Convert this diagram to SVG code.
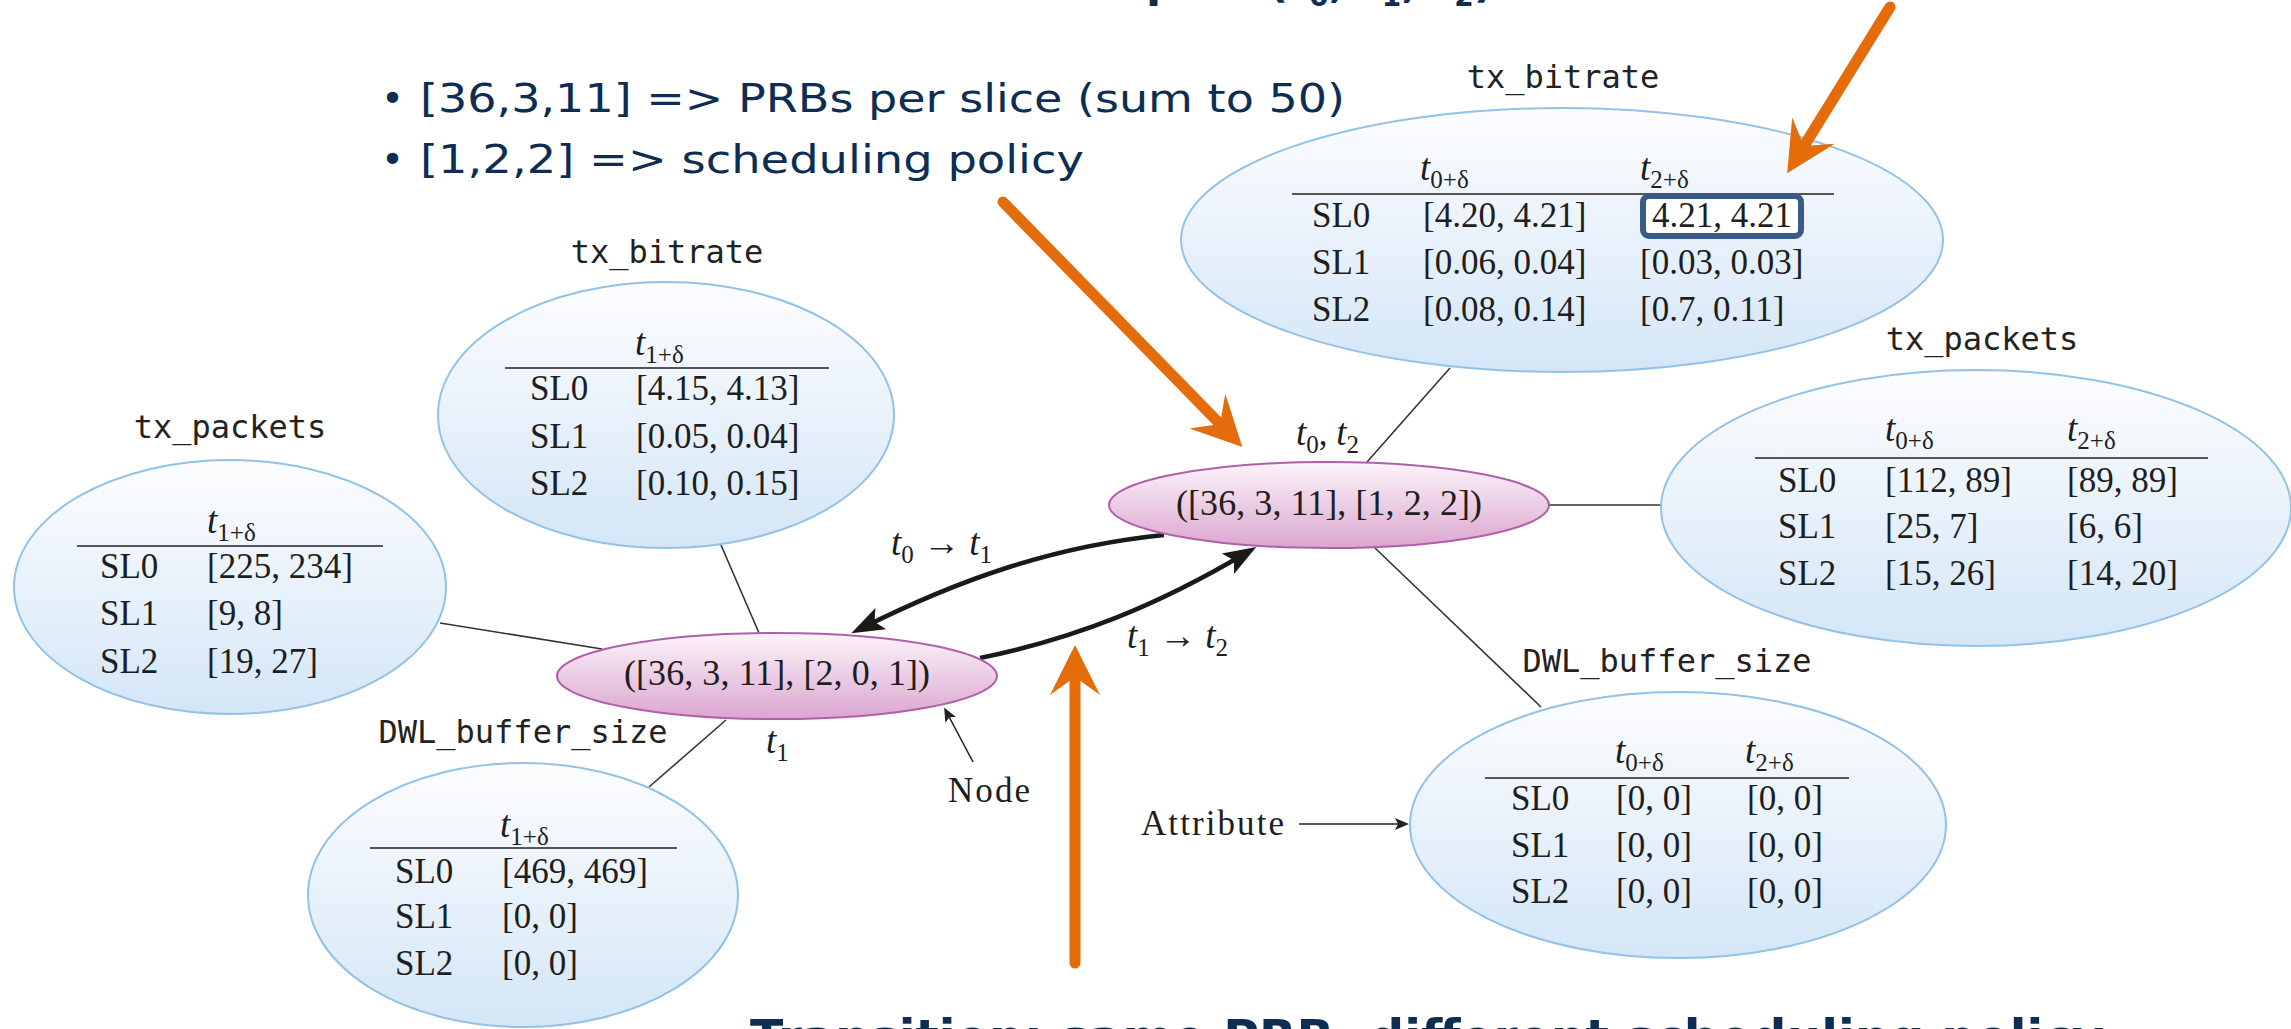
<svg xmlns="http://www.w3.org/2000/svg" width="2291" height="1029" viewBox="0 0 2291 1029">
<style>
.mono{font-family:"DejaVu Sans Mono","Liberation Mono",monospace;font-size:32px;fill:#222;text-anchor:middle}
.tb{font-family:"Liberation Serif","DejaVu Serif",serif;font-size:35px;fill:#1e1e1e}
.nd{font-family:"Liberation Serif","DejaVu Serif",serif;font-size:36px;fill:#1e1e1e;text-anchor:middle}
.it{font-style:italic;font-size:37px}
.sub{font-size:25px}
.attr{fill:url(#gBlue);stroke:#93c2e8;stroke-width:2}
.node{fill:url(#gPink);stroke:#b15fab;stroke-width:2}
.hl{stroke:#555;stroke-width:2}
.edge{stroke:#333;stroke-width:1.6;fill:none}
.trans{stroke:#1a1a1a;stroke-width:4.5;fill:none}
.thin{stroke:#222;stroke-width:1.6;fill:none}
.orange{stroke:#e46c0a;stroke-width:11;fill:none;stroke-linecap:round}
.slide{font-family:"DejaVu Sans","Open Sans",sans-serif;fill:#0d2d52}
</style>
<defs>
<linearGradient id="gBlue" x1="0" y1="0" x2="0" y2="1">
<stop offset="0" stop-color="#fdfdfe"/>
<stop offset="1" stop-color="#d4e6f7"/>
</linearGradient>
<linearGradient id="gPink" x1="0" y1="0" x2="0" y2="1">
<stop offset="0" stop-color="#fcf4fa"/>
<stop offset="1" stop-color="#dba6cf"/>
</linearGradient>
<marker id="hBlack" markerUnits="userSpaceOnUse" viewBox="-30 -15 45 30" markerWidth="45" markerHeight="30" refX="0" refY="0" orient="auto">
<path d="M12,0 L-21,-12 L-14,0 L-21,12 Z" fill="#1a1a1a"/>
</marker>
<marker id="hSmall" markerUnits="userSpaceOnUse" viewBox="-20 -10 30 20" markerWidth="30" markerHeight="20" refX="0" refY="0" orient="auto">
<path d="M4,0 L-10,-6 L-7,0 L-10,6 Z" fill="#222"/>
</marker>
<marker id="hOrange" markerUnits="userSpaceOnUse" viewBox="-25 -30 65 60" markerWidth="65" markerHeight="60" refX="0" refY="0" orient="auto">
<path d="M32,0 L-18,-25 L0,0 L-18,25 Z" fill="#e46c0a"/>
</marker>
</defs>

<g id="connectors">
<line class="edge" x1="721" y1="545" x2="759" y2="633"/>
<line class="edge" x1="440" y1="623" x2="602" y2="649"/>
<line class="edge" x1="726" y1="720" x2="649" y2="787"/>
<line class="edge" x1="1450" y1="368" x2="1367" y2="462"/>
<line class="edge" x1="1549" y1="505" x2="1662" y2="505"/>
<line class="edge" x1="1375" y1="548" x2="1541" y2="707"/>
<path class="trans" d="M1164,535 C1054,546 960,579 862,628" marker-end="url(#hBlack)"/>
<path class="trans" d="M980,658 C1078,638 1160,604 1246,553" marker-end="url(#hBlack)"/>
<line class="thin" x1="973" y1="762" x2="946" y2="711" marker-end="url(#hSmall)"/>
<line class="thin" x1="1299" y1="824" x2="1405" y2="824" marker-end="url(#hSmall)"/>
</g>

<g id="attr-left-bitrate">
<text class="mono" x="667" y="263">tx_bitrate</text>
<ellipse class="attr" cx="666" cy="415" rx="228" ry="133"/>
<text class="tb" x="635" y="355"><tspan class="it">t</tspan><tspan class="sub" dy="8">1+δ</tspan></text>
<line class="hl" x1="505" y1="368" x2="829" y2="368"/>
<text class="tb" x="530" y="400">SL0</text><text class="tb" x="636" y="400">[4.15, 4.13]</text>
<text class="tb" x="530" y="448">SL1</text><text class="tb" x="636" y="448">[0.05, 0.04]</text>
<text class="tb" x="530" y="495">SL2</text><text class="tb" x="636" y="495">[0.10, 0.15]</text>
</g>

<g id="attr-left-packets">
<text class="mono" x="230" y="438">tx_packets</text>
<ellipse class="attr" cx="230" cy="587" rx="216" ry="127"/>
<text class="tb" x="207" y="533"><tspan class="it">t</tspan><tspan class="sub" dy="8">1+δ</tspan></text>
<line class="hl" x1="77" y1="546" x2="383" y2="546"/>
<text class="tb" x="100" y="578">SL0</text><text class="tb" x="207" y="578">[225, 234]</text>
<text class="tb" x="100" y="625">SL1</text><text class="tb" x="207" y="625">[9, 8]</text>
<text class="tb" x="100" y="673">SL2</text><text class="tb" x="207" y="673">[19, 27]</text>
</g>

<g id="attr-left-buffer">
<text class="mono" x="523" y="743">DWL_buffer_size</text>
<ellipse class="attr" cx="523" cy="895" rx="215" ry="132"/>
<text class="tb" x="500" y="837"><tspan class="it">t</tspan><tspan class="sub" dy="8">1+δ</tspan></text>
<line class="hl" x1="370" y1="848" x2="677" y2="848"/>
<text class="tb" x="395" y="883">SL0</text><text class="tb" x="502" y="883">[469, 469]</text>
<text class="tb" x="395" y="928">SL1</text><text class="tb" x="502" y="928">[0, 0]</text>
<text class="tb" x="395" y="975">SL2</text><text class="tb" x="502" y="975">[0, 0]</text>
</g>

<g id="attr-right-bitrate">
<text class="mono" x="1563" y="88">tx_bitrate</text>
<ellipse class="attr" cx="1562" cy="240" rx="381" ry="132"/>
<text class="tb" x="1420" y="180"><tspan class="it">t</tspan><tspan class="sub" dy="8">0+δ</tspan></text>
<text class="tb" x="1640" y="180"><tspan class="it">t</tspan><tspan class="sub" dy="8">2+δ</tspan></text>
<line class="hl" x1="1292" y1="194" x2="1834" y2="194"/>
<rect x="1643" y="196" width="158" height="40" rx="6" fill="#ffffff" stroke="#3a5a8a" stroke-width="6"/>
<text class="tb" x="1312" y="227">SL0</text><text class="tb" x="1423" y="227">[4.20, 4.21]</text><text class="tb" x="1652" y="227">4.21, 4.21</text>
<text class="tb" x="1312" y="274">SL1</text><text class="tb" x="1423" y="274">[0.06, 0.04]</text><text class="tb" x="1640" y="274">[0.03, 0.03]</text>
<text class="tb" x="1312" y="321">SL2</text><text class="tb" x="1423" y="321">[0.08, 0.14]</text><text class="tb" x="1640" y="321">[0.7, 0.11]</text>
</g>

<g id="attr-right-packets">
<text class="mono" x="1982" y="350">tx_packets</text>
<ellipse class="attr" cx="1976" cy="508" rx="315" ry="138"/>
<text class="tb" x="1885" y="441"><tspan class="it">t</tspan><tspan class="sub" dy="8">0+δ</tspan></text>
<text class="tb" x="2067" y="441"><tspan class="it">t</tspan><tspan class="sub" dy="8">2+δ</tspan></text>
<line class="hl" x1="1755" y1="458" x2="2208" y2="458"/>
<text class="tb" x="1778" y="492">SL0</text><text class="tb" x="1885" y="492">[112, 89]</text><text class="tb" x="2067" y="492">[89, 89]</text>
<text class="tb" x="1778" y="538">SL1</text><text class="tb" x="1885" y="538">[25, 7]</text><text class="tb" x="2067" y="538">[6, 6]</text>
<text class="tb" x="1778" y="585">SL2</text><text class="tb" x="1885" y="585">[15, 26]</text><text class="tb" x="2067" y="585">[14, 20]</text>
</g>

<g id="attr-right-buffer">
<text class="mono" x="1667" y="672">DWL_buffer_size</text>
<ellipse class="attr" cx="1678" cy="825" rx="268" ry="133"/>
<text class="tb" x="1615" y="763"><tspan class="it">t</tspan><tspan class="sub" dy="8">0+δ</tspan></text>
<text class="tb" x="1745" y="763"><tspan class="it">t</tspan><tspan class="sub" dy="8">2+δ</tspan></text>
<line class="hl" x1="1485" y1="778" x2="1849" y2="778"/>
<text class="tb" x="1511" y="810">SL0</text><text class="tb" x="1616" y="810">[0, 0]</text><text class="tb" x="1747" y="810">[0, 0]</text>
<text class="tb" x="1511" y="857">SL1</text><text class="tb" x="1616" y="857">[0, 0]</text><text class="tb" x="1747" y="857">[0, 0]</text>
<text class="tb" x="1511" y="903">SL2</text><text class="tb" x="1616" y="903">[0, 0]</text><text class="tb" x="1747" y="903">[0, 0]</text>
</g>

<g id="node-t1">
<ellipse class="node" cx="777" cy="676" rx="220" ry="43"/>
<text class="nd" x="777" y="685" textLength="306">([36, 3, 11], [2, 0, 1])</text>
<text class="tb" x="766" y="753"><tspan class="it">t</tspan><tspan class="sub" dy="8">1</tspan></text>
</g>

<g id="node-t0-t2">
<ellipse class="node" cx="1329" cy="505" rx="220" ry="43"/>
<text class="nd" x="1329" y="515" textLength="306">([36, 3, 11], [1, 2, 2])</text>
<text class="tb" x="1296" y="445"><tspan class="it">t</tspan><tspan class="sub" dy="8">0</tspan><tspan dy="-8">, </tspan><tspan class="it">t</tspan><tspan class="sub" dy="8">2</tspan></text>
</g>

<g id="transition-labels">
<text class="tb" x="891" y="555"><tspan class="it">t</tspan><tspan class="sub" dy="8">0</tspan><tspan dy="-8" font-size="37"> → </tspan><tspan class="it">t</tspan><tspan class="sub" dy="8">1</tspan></text>
<text class="tb" x="1127" y="648"><tspan class="it">t</tspan><tspan class="sub" dy="8">1</tspan><tspan dy="-8" font-size="37"> → </tspan><tspan class="it">t</tspan><tspan class="sub" dy="8">2</tspan></text>
<text class="tb" x="948" y="802" font-size="37" textLength="82">Node</text>
<text class="tb" x="1141" y="835" font-size="37" textLength="143">Attribute</text>
</g>

<g id="annotations">
<line class="orange" x1="1890" y1="7" x2="1804" y2="146" marker-end="url(#hOrange)"/>
<line class="orange" x1="1003" y1="202" x2="1220" y2="424" marker-end="url(#hOrange)"/>
<line class="orange" x1="1075" y1="963" x2="1075" y2="677" marker-end="url(#hOrange)"/>
<text class="slide" x="381" y="112" font-size="39">•</text>
<text class="slide" x="420" y="112" font-size="39" textLength="925" lengthAdjust="spacingAndGlyphs">[36,3,11] =&gt; PRBs per slice (sum to 50)</text>
<text class="slide" x="381" y="173" font-size="39">•</text>
<text class="slide" x="420" y="173" font-size="39" textLength="664" lengthAdjust="spacingAndGlyphs">[1,2,2] =&gt; scheduling policy</text>
<text class="slide" x="1195" y="-3" font-size="44" font-weight="bold" text-anchor="end">Loop:</text>
<text class="slide" x="1268" y="-3" font-size="44" font-weight="bold">(t<tspan font-size="28" dy="9">0</tspan><tspan dy="-9">, t</tspan><tspan font-size="28" dy="9">1</tspan><tspan dy="-9">, t</tspan><tspan font-size="28" dy="9">2</tspan><tspan dy="-9">)</tspan></text>
<text class="slide" x="750" y="1054" font-size="48" font-weight="bold" textLength="1354" lengthAdjust="spacingAndGlyphs">Transition: same PRB, different scheduling policy</text>
</g>
</svg>
